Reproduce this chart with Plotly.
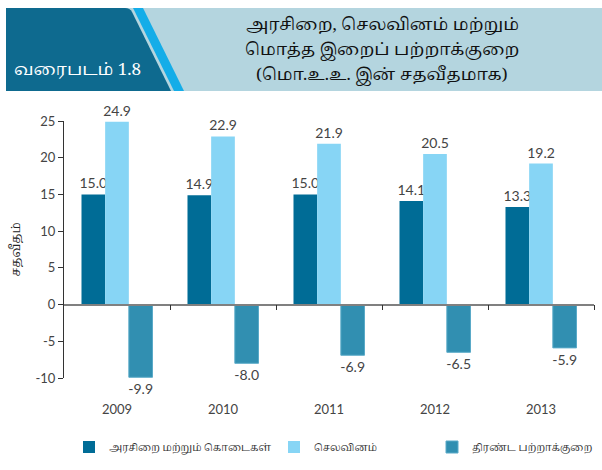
import plotly.graph_objects as go

years = [2009, 2010, 2011, 2012, 2013]
revenue = [15.0, 14.9, 15.0, 14.1, 13.3]
expenditure = [24.9, 22.9, 21.9, 20.5, 19.2]
deficit = [-9.9, -8.0, -6.9, -6.5, -5.9]
series_names = ["அரசிறை மற்றும் கொடைகள்", "செலவினம்", "திரண்ட பற்றாக்குறை"]
colors = ["#006C96", "#87D5F5", "#318FB1"]
y_ticks = [-10, -5, 0, 5, 10, 15, 20, 25]
y_tick_labels = ["-10", "-5", "0", "5", "10", "15", "20", "25"]
title_lines = ["அரசிறை, செலவினம் மற்றும்", "மொத்த இறைப் பற்றாக்குறை", "(மொ.உ.உ. இன் சதவீதமாக)"]
badge_text = "வரைபடம் 1.8"
y_title = "சதவீதம்"

W, H = 602, 470
L, R, T, B = 64, 8, 121, 92
PW, PH = W - L - R, H - T - B


def px(x):
    return (x - L) / PW


def py(y):
    return (H - B - y) / PH


FONT = "Lato, 'Open Sans', sans-serif"
TAMIL = "'Noto Serif Tamil', 'Noto Sans Tamil', serif"
TXT = "#444444"

fig = go.Figure()
for i, (name, vals) in enumerate(zip(series_names, [revenue, expenditure, deficit])):
    fig.add_trace(go.Bar(
        x=years, y=vals, name=name,
        marker=dict(color=colors[i], line=dict(width=1 if i == 2 else 0, color="#5AAAC8")),
        text=[f"{v:.1f}" for v in vals], textposition="outside", constraintext="none",
        textfont=dict(size=14, color=TXT, family=FONT),
        cliponaxis=False,
        legend=["legend", "legend2", "legend3"][i],
    ))

shapes = []
shapes.append(dict(type="rect", xref="paper", yref="paper", x0=px(6), x1=px(602), y0=py(8), y1=py(91),
                   fillcolor="#B4D5DF", line=dict(width=0), layer="above"))
stripe = f"M {px(133)},{py(8)} L {px(143)},{py(8)} L {px(184)},{py(91)} L {px(174)},{py(91)} Z"
shapes.append(dict(type="path", xref="paper", yref="paper", path=stripe,
                   fillcolor="#14ADE8", line=dict(width=0), layer="above"))
dark = (f"M {px(6)},{py(8)} L {px(125)},{py(8)} Q {px(130)},{py(8)} {px(132)},{py(12)} "
        f"L {px(171)},{py(91)} L {px(6)},{py(91)} Z")
shapes.append(dict(type="path", xref="paper", yref="paper", path=dark,
                   fillcolor="#0E6A8F", line=dict(width=0), layer="above"))

annotations = [
    dict(text=badge_text, x=px(12), y=py(55), xref="paper", yref="paper", showarrow=False,
         xanchor="left", font=dict(size=17, color="white", family=TAMIL)),
]
for ln, yy in zip(title_lines, [25, 50, 75]):
    annotations.append(dict(text=ln, x=px(382), y=py(yy), xref="paper", yref="paper", showarrow=False,
                            yanchor="middle", borderpad=0,
                            font=dict(size=17, color="#111111", family=TAMIL)))

leg_font = dict(size=10, color="#333", family=TAMIL)
leg_common = dict(yanchor="middle", xanchor="left", orientation="h", font=leg_font,
                  bgcolor="rgba(0,0,0,0)")
fig.update_layout(
    width=W, height=H,
    margin=dict(l=L, r=R, t=T, b=B, autoexpand=False),
    paper_bgcolor="white", plot_bgcolor="white",
    barmode="group", bargap=0.33, bargroupgap=0,
    font=dict(family=FONT, color=TXT),
    xaxis=dict(range=[years[0] - 0.5, years[-1] + 0.5], tickvals=years, ticktext=[str(y) for y in years],
               showline=False, showgrid=False, zeroline=False, ticks="",
               tickfont=dict(size=13, color=TXT, family=FONT), ticklabelstandoff=22),
    xaxis2=dict(overlaying="x", matches="x", anchor="free", position=10 / 35,
                tickvals=[y + 0.5 for y in years], ticks="outside", ticklen=5, tickcolor="#333",
                showticklabels=False, showline=True, linecolor="#808080", linewidth=1.5, showgrid=False,
                zeroline=False),
    yaxis=dict(range=[y_ticks[0], y_ticks[-1]], tickvals=y_ticks, ticktext=y_tick_labels,
               showgrid=False, zeroline=False, showline=True,
               linecolor="#333333", linewidth=1, ticks="outside", ticklen=5, tickcolor="#333",
               tickfont=dict(size=13, color=TXT, family=FONT),
               title=dict(text=y_title, font=dict(size=12, color="#222", family=TAMIL), standoff=12)),
    shapes=shapes,
    annotations=annotations,
    legend=dict(x=px(69), y=py(447), **leg_common),
    legend2=dict(x=px(274), y=py(447), **leg_common),
    legend3=dict(x=px(432), y=py(447), **leg_common),
)
fig.add_trace(go.Scatter(x=[years[0]], y=[None], xaxis="x2", showlegend=False, hoverinfo="skip"))

fig.write_html("out.html", config={"displayModeBar": False},
               post_script="document.body.style.margin='0';document.body.style.overflow='hidden';")
